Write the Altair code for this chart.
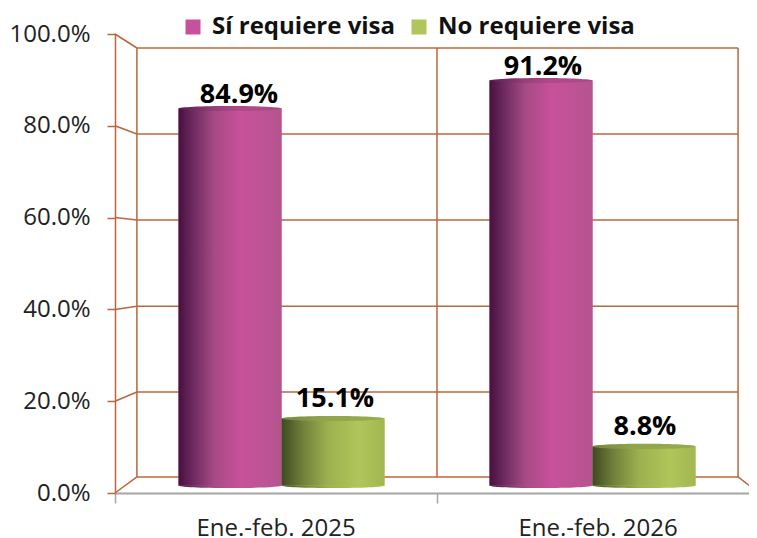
import altair as alt
import pandas as pd

categories = ["Ene.-feb. 2025", "Ene.-feb. 2026"]
series = ["Sí requiere visa", "No requiere visa"]
si_visa = [84.9, 91.2]
no_visa = [15.1, 8.8]
y_ticks = [0, 20, 40, 60, 80, 100]
back_levels = [3.5, 22.0, 40.7, 59.5, 78.2, 96.95]
back_left, back_mid, back_right = 0.068, 1.0, 1.935

FONT = "Open Sans"
WALL = "#bb663c"
MAG, GRN = "#c8519b", "#b0c55a"
FRONT_RANGE = [0, 644]

rows = []
for i, c in enumerate(categories):
    rows.append({"cat": c, "series": series[0], "value": si_visa[i]})
    rows.append({"cat": c, "series": series[1], "value": no_visa[i]})
df = pd.DataFrame(rows)

segs = []
for lv in back_levels:
    segs.append({"x1": back_left, "x2": back_right, "y1": lv, "y2": lv})
for t, lv in zip(y_ticks, back_levels):
    segs.append({"x1": 0, "x2": back_left, "y1": t, "y2": lv})
for xb in (back_left, back_mid, back_right):
    segs.append({"x1": xb, "x2": xb, "y1": back_levels[0], "y2": back_levels[-1]})
segs.append({"x1": back_right, "x2": 2, "y1": back_levels[0], "y2": 0})
segs_df = pd.DataFrame(segs)

frame_x = alt.Scale(domain=[0, 2], nice=False, range=FRONT_RANGE)
frame_y = alt.Scale(domain=[0, 100], nice=False)
bar_y = alt.Scale(domain=[-1.69, 101.69], nice=False, zero=False)
bar_x = alt.Scale(type="band", domain=categories, paddingInner=0.3376, paddingOuter=0.2042, range=FRONT_RANGE)
off = alt.Scale(type="band", domain=series, paddingInner=0, paddingOuter=0)


def grad(stops):
    return alt.Gradient(
        gradient="linear", x1=0, x2=1, y1=0, y2=0,
        stops=[alt.GradientStop(offset=o, color=c) for o, c in stops],
    )


mag_grad = grad([(0, "#47103f"), (0.15, "#6f2c62"), (0.35, "#a64a84"), (0.6, "#c8519b"), (1, "#b5548f")])
grn_grad = grad([(0, "#3e4a20"), (0.2, "#6f7f3a"), (0.45, "#9db04f"), (0.75, "#b0c55a"), (1, "#a3b752")])
mag_cap = grad([(0, "#5a1c50"), (0.35, "#963f78"), (0.6, "#b04a8a"), (1, "#a84a84")])
grn_cap = grad([(0, "#75853a"), (0.4, "#93a54c"), (1, "#98aa4e")])

ELLIPSE = "M-1,0 A1,0.05 0 1,1 1,0 A1,0.05 0 1,1 -1,0 Z"
CAP_SIZE = 103 * 103

walls = alt.Chart(segs_df).mark_rule(color=WALL, strokeWidth=1.5).encode(
    x=alt.X("x1:Q", scale=frame_x, axis=alt.Axis(
        orient="bottom", values=[0, 1, 2], labels=False, title=None, grid=False, domainColor="#a6a6a6",
        domainWidth=2, tickColor="#a6a6a6", tickWidth=1.5, tickSize=10)),
    x2="x2:Q",
    y=alt.Y("y1:Q", scale=frame_y, axis=alt.Axis(
        orient="left", values=y_ticks, format=".1f", labelExpr="datum.label + '%'", title=None, grid=False,
        domainColor=WALL, domainWidth=1.5, tickColor=WALL, tickWidth=1.5, tickSize=8,
        labelPadding=17, labelFont=FONT, labelFontSize=24, labelColor="#222222")),
    y2="y2:Q",
)

cat_axis = alt.Chart(pd.DataFrame({"cat": categories})).mark_point(opacity=0).encode(
    x=alt.X("cat:N", sort=categories,
            scale=alt.Scale(type="band", domain=categories, padding=0, range=FRONT_RANGE),
            axis=alt.Axis(orient="bottom", title=None, ticks=False, domain=False, labelAngle=0, labelPadding=23,
                          labelFont=FONT, labelFontSize=24, labelColor="#222222", labelLimit=300)),
    y=alt.value(0),
)

pos = dict(
    x=alt.X("cat:N", scale=bar_x, axis=None, sort=categories),
    xOffset=alt.XOffset("series:N", scale=off, sort=series),
)
y_val = alt.Y("value:Q", scale=bar_y, axis=None, stack=None)

base_bars = alt.Chart(df).mark_bar().encode(
    **pos, y=y_val,
    color=alt.Color("series:N", scale=alt.Scale(domain=series, range=[MAG, GRN]), legend=alt.Legend(
        title=None, orient="none", legendX=66, legendY=-19, direction="horizontal", columns=2,
        symbolType="square", symbolSize=225, symbolStrokeWidth=0, labelFont=FONT, labelFontSize=24,
        labelFontWeight="bold", labelColor="#111111", labelOffset=7, columnPadding=11,
        labelLimit=300)),
)

layers = [walls, cat_axis]
for name, body, cap in ((series[0], mag_grad, mag_cap), (series[1], grn_grad, grn_cap)):
    d = df[df.series == name]
    layers.append(alt.Chart(d).mark_point(filled=True, opacity=1, fill=body, shape=ELLIPSE, size=CAP_SIZE, strokeWidth=0).encode(
        **pos, y=alt.Y("base:Q", scale=bar_y, axis=None)).transform_calculate(base="0"))
layers.append(base_bars)
for name, body, cap in ((series[0], mag_grad, mag_cap), (series[1], grn_grad, grn_cap)):
    d = df[df.series == name]
    layers.append(alt.Chart(d).mark_bar(fill=body).encode(**pos, y=y_val))
    layers.append(alt.Chart(d).mark_point(filled=True, opacity=1, fill=cap, shape=ELLIPSE, size=CAP_SIZE, strokeWidth=0).encode(**pos, y=y_val))

for (s, c, dx, dy) in ((0, 0, 9, 0), (0, 1, 2, 0), (1, 0, 2, -5), (1, 1, 1, -5)):
    d = df[(df.series == series[s]) & (df.cat == categories[c])]
    layers.append(alt.Chart(d).mark_text(
        font=FONT, fontSize=27, fontWeight="bold", color="#000000", baseline="bottom", dx=dx, dy=dy,
    ).encode(**pos, y=y_val, text="lab:N").transform_calculate(
        lab="format(datum.value, '.1f') + '%'"))

chart = alt.layer(*layers).resolve_scale(x="independent", y="independent", xOffset="independent").properties(
    width=634, height=459,
    autosize=alt.AutoSizeParams(type="none"),
    padding={"left": 107, "top": 26, "right": 0, "bottom": 55},
    background="white",
).configure_view(stroke=None)

chart.save("out.html", embed_options={"renderer": "svg", "actions": False})
